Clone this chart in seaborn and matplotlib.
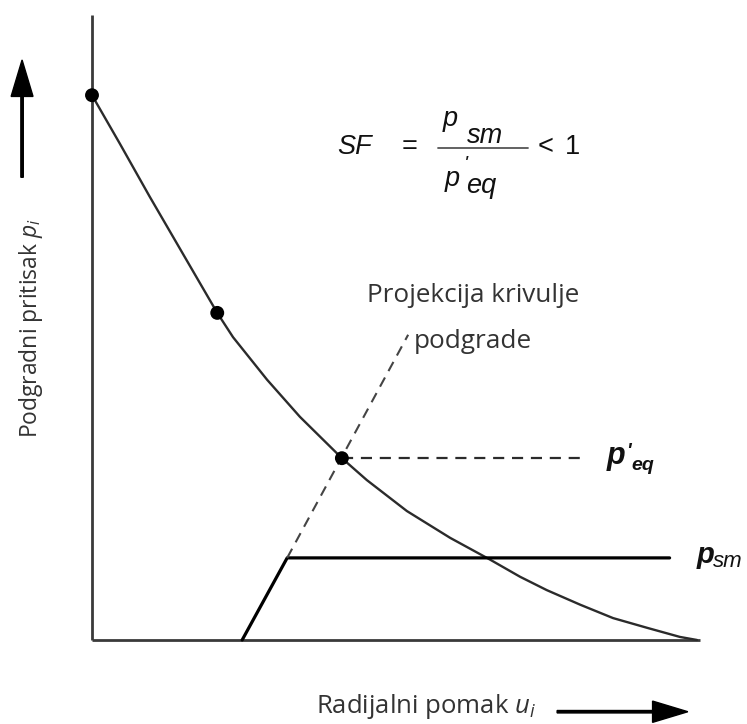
"""
Ground reaction curve vs support characteristic (schematic), seaborn version.
"""

import matplotlib
matplotlib.use("Agg")
import matplotlib.pyplot as plt
import pandas as pd
import seaborn as sns

# ground reaction curve: radial displacement u vs support pressure p
curve_u = [0.0, 0.46, 0.95, 2.06, 2.32, 2.88, 3.42, 4.11, 4.52, 5.18, 5.89, 6.55,
           7.04, 7.48, 8.03, 8.57, 9.13, 9.67, 9.95]
curve_p = [8.96, 8.16, 7.29, 5.38, 4.98, 4.28, 3.67, 2.99, 2.63, 2.12, 1.68, 1.32,
           1.04, 0.82, 0.58, 0.36, 0.20, 0.05, 0.0]

# marked points on the curve
mark_u = [0.0, 2.06, 4.11]
mark_p = [8.96, 5.38, 2.99]

# support characteristic: install at u0, elastic up to p_sm, then yield
support_u = [2.47, 3.21, 9.50]
support_p = [0.0, 1.35, 1.35]

# projected elastic line of the support (dashed)
proj_u = [3.21, 5.20]
proj_p = [1.35, 5.02]

# equilibrium pressure level (dashed)
eq_u = [4.11, 8.10]
eq_p = [2.99, 2.99]

# axis extents
axis_u_max = 10.0
axis_p_max = 10.28

sns.set_theme(style="white")
plt.rcParams["font.family"] = ["Open Sans", "DejaVu Sans"]
plt.rcParams["mathtext.fontset"] = "custom"
plt.rcParams["mathtext.rm"] = "Open Sans"
plt.rcParams["mathtext.it"] = "Open Sans:italic"

fig = plt.figure(figsize=(7.47, 7.24), dpi=100)
ax = fig.add_axes([0, 0, 1, 1])
ax.set_xlim(-1.513, 10.773)
ax.set_ylim(-1.382, 10.526)
ax.axis("off")

axis_col = "#3a3a3a"
line_col = "#2b2b2b"

# axes drawn as plain lines
ax.plot([0, 0], [0, axis_p_max], color=axis_col, lw=2.0, solid_capstyle="butt")
ax.plot([0, axis_u_max], [0, 0], color=axis_col, lw=2.0, solid_capstyle="butt")

df = pd.DataFrame({"u": curve_u, "p": curve_p})
sns.lineplot(data=df, x="u", y="p", sort=False, estimator=None, color=line_col, lw=1.7, ax=ax)

sns.lineplot(x=support_u, y=support_p, sort=False, estimator=None, color="black", lw=2.3, ax=ax)
ax.plot(proj_u, proj_p, color="#444444", lw=1.5, ls=(0, (5, 3.5)))
ax.plot(eq_u, eq_p, color=line_col, lw=1.6, ls=(0, (5, 3.5)))

sns.scatterplot(x=mark_u, y=mark_p, color="black", s=100, edgecolor="none", zorder=5, ax=ax)

# formula SF = p_sm / p'_eq < 1
ff = dict(family=["Liberation Sans", "DejaVu Sans"], fontsize=19.5, color="#111111",
          va="baseline", ha="left")
ax.text(4.03, 7.99, "SF", style="italic", **ff)
ax.text(5.10, 7.99, "=", **ff)
ax.text(5.76, 8.45, "p", style="italic", **ff)
ax.text(6.16, 8.17, "sm", style="italic", **ff)
ax.plot([5.69, 7.17], [8.09, 8.09], color="#555555", lw=1.3)
ax.text(7.33, 7.99, "<", **ff)
ax.text(7.78, 7.99, "1", **ff)
ax.text(5.80, 7.47, "p", style="italic", **ff)
ax.text(6.12, 7.97, "'", style="italic", family=["Liberation Sans"], fontsize=15,
        va="top", color="#111111")
ax.text(6.16, 7.35, "eq", style="italic", **ff)

# right-hand labels
lf = dict(family=["Liberation Sans", "DejaVu Sans"], color="#111111", va="baseline",
          ha="left", style="italic")
ax.text(8.47, 2.89, "p", fontsize=22, weight="bold", **lf)
ax.text(8.79, 3.03, "'", fontsize=14, weight="bold", **lf)
ax.text(8.88, 2.80, "eq", fontsize=14, weight="bold", **lf)
ax.text(9.95, 1.27, "p", fontsize=21, weight="bold", **lf)
ax.text(10.21, 1.20, "sm", fontsize=16, **lf)

# annotation for projected support line
tc = "#333333"
ax.text(6.27, 5.56, "Projekcija krivulje", fontsize=18.8, color=tc, ha="center", va="baseline")
ax.text(6.27, 4.80, "podgrade", fontsize=18.8, color=tc, ha="center", va="baseline")

# axis titles with arrows
ax.text(-1.0, 5.13, "Podgradni pritisak $p_i$", fontsize=16.5, color=tc, rotation=90,
        ha="center", va="center")
ax.text(3.69, -1.20, "Radijalni pomak $u_i$", fontsize=18.5, color=tc, ha="left", va="baseline")

ax.arrow(-1.15, 7.61, 0, 1.93, width=0.04, head_width=0.36, head_length=0.6,
         length_includes_head=True, color="black")
ax.arrow(7.65, -1.18, 2.15, 0, width=0.04, head_width=0.35, head_length=0.58,
         length_includes_head=True, color="black")

fig.savefig("out.png", dpi=100)
